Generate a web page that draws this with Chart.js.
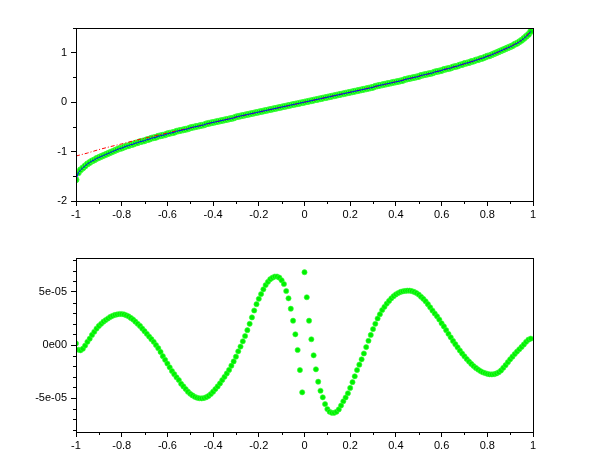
<!DOCTYPE html>
<html>
<head>
<meta charset="utf-8">
<script src="https://cdn.jsdelivr.net/npm/chart.js@4/dist/chart.umd.min.js"></script>
<style>
  body { margin: 0; background: #fff; }
  canvas { position: absolute; left: 0; }
</style>
</head>
<body>
<canvas id="topChart" width="610" height="230" style="top:0"></canvas>
<canvas id="bottomChart" width="610" height="230" style="top:230px"></canvas>
<script>
// x samples: -1.00 .. 0.99, step 0.01 (200 points)
const sampleCount = 200;

// top panel: sampled curve (green points) and the fitted curve (blue line)
const curveValues = [
  -1.57, -1.43, -1.37, -1.33, -1.29, -1.25, -1.22, -1.19, -1.17, -1.14,
  -1.12, -1.10, -1.08, -1.06, -1.04, -1.02, -1.00, -0.98, -0.96, -0.94,
  -0.93, -0.91, -0.89, -0.88, -0.86, -0.85, -0.83, -0.82, -0.80, -0.79,
  -0.78, -0.76, -0.75, -0.73, -0.72, -0.71, -0.69, -0.68, -0.67, -0.66,
  -0.64, -0.63, -0.62, -0.61, -0.59, -0.58, -0.57, -0.56, -0.55, -0.54,
  -0.52, -0.51, -0.50, -0.49, -0.48, -0.47, -0.46, -0.44, -0.43, -0.42,
  -0.41, -0.40, -0.39, -0.38, -0.37, -0.36, -0.35, -0.34, -0.33, -0.32,
  -0.30, -0.29, -0.28, -0.27, -0.26, -0.25, -0.24, -0.23, -0.22, -0.21,
  -0.20, -0.19, -0.18, -0.17, -0.16, -0.15, -0.14, -0.13, -0.12, -0.11,
  -0.10, -0.09, -0.08, -0.07, -0.06, -0.05, -0.04, -0.03, -0.02, -0.01,
  0.00, 0.01, 0.02, 0.03, 0.04, 0.05, 0.06, 0.07, 0.08, 0.09,
  0.10, 0.11, 0.12, 0.13, 0.14, 0.15, 0.16, 0.17, 0.18, 0.19,
  0.20, 0.21, 0.22, 0.23, 0.24, 0.25, 0.26, 0.27, 0.28, 0.29,
  0.30, 0.32, 0.33, 0.34, 0.35, 0.36, 0.37, 0.38, 0.39, 0.40,
  0.41, 0.42, 0.43, 0.44, 0.46, 0.47, 0.48, 0.49, 0.50, 0.51,
  0.52, 0.54, 0.55, 0.56, 0.57, 0.58, 0.59, 0.61, 0.62, 0.63,
  0.64, 0.66, 0.67, 0.68, 0.69, 0.71, 0.72, 0.73, 0.75, 0.76,
  0.78, 0.79, 0.80, 0.82, 0.83, 0.85, 0.86, 0.88, 0.89, 0.91,
  0.93, 0.94, 0.96, 0.98, 1.00, 1.02, 1.04, 1.06, 1.08, 1.10,
  1.12, 1.14, 1.17, 1.19, 1.22, 1.25, 1.29, 1.33, 1.37, 1.43
];

// top panel: red dash-dot approximation, coarser grid
const approxX = [
  -1, -0.95, -0.9, -0.85, -0.8, -0.75, -0.7, -0.65, -0.6, -0.55,
  -0.5, -0.45, -0.4, -0.35, -0.3, -0.25, -0.2, -0.15, -0.1, -0.05,
  0, 0.05, 0.1, 0.15, 0.2, 0.25, 0.3, 0.35, 0.4, 0.45,
  0.5, 0.55, 0.6, 0.65, 0.7, 0.75, 0.8, 0.85, 0.9, 0.95, 0.99
];
const approxValues = [
  -1.09, -1.03, -0.96, -0.90, -0.845, -0.785, -0.73, -0.675, -0.625, -0.57,
  -0.522, -0.467, -0.412, -0.358, -0.305, -0.253, -0.201, -0.151, -0.100, -0.050,
  0, 0.050, 0.100, 0.151, 0.201, 0.253, 0.305, 0.358, 0.412, 0.467,
  0.524, 0.582, 0.644, 0.708, 0.775, 0.848, 0.927, 1.016, 1.12, 1.25, 1.43
];

// bottom panel: error, in units of 1e-5
const errorValues = [
  0.15, -0.45, -0.5, -0.35, -0.05, 0.3, 0.6, 0.95, 1.25, 1.55,
  1.8, 2.0, 2.2, 2.35, 2.5, 2.65, 2.75, 2.83, 2.88, 2.92,
  2.92, 2.88, 2.8, 2.7, 2.55, 2.4, 2.2, 2.0, 1.8, 1.55,
  1.3, 1.05, 0.8, 0.55, 0.3, 0.0, -0.3, -0.65, -1.05, -1.4,
  -1.75, -2.1, -2.45, -2.75, -3.05, -3.3, -3.65, -3.9, -4.15, -4.4,
  -4.6, -4.75, -4.88, -4.97, -5.02, -5.03, -5.0, -4.92, -4.8, -4.62,
  -4.4, -4.15, -3.9, -3.62, -3.3, -3.0, -2.68, -2.35, -1.95, -1.55,
  -1.1, -0.6, -0.15, 0.35, 0.85, 1.4, 2.0, 2.6, 3.25, 3.85,
  4.35, 4.8, 5.25, 5.65, 5.95, 6.2, 6.35, 6.45, 6.45, 6.35,
  6.1, 5.75, 5.09, 4.4, 3.42, 2.29, 1.01, -0.47, -2.36, -4.46,
  6.86, 4.5, 2.29, 0.54, -0.97, -2.29, -3.46, -4.31, -4.93, -5.57,
  -6.04, -6.29, -6.39, -6.39, -6.29, -6.07, -5.7, -5.3, -4.95, -4.55,
  -4.05, -3.5, -2.95, -2.36, -1.85, -1.35, -0.8, -0.2, 0.4, 0.95,
  1.5, 2.0, 2.5, 2.9, 3.3, 3.6, 3.9, 4.15, 4.4, 4.6,
  4.77, 4.9, 5.0, 5.06, 5.1, 5.12, 5.12, 5.08, 5.0, 4.9,
  4.75, 4.55, 4.35, 4.12, 3.85, 3.55, 3.25, 2.97, 2.7, 2.4,
  2.05, 1.75, 1.4, 1.05, 0.72, 0.38, 0.08, -0.22, -0.52, -0.8,
  -1.07, -1.32, -1.56, -1.78, -1.98, -2.16, -2.32, -2.46, -2.57, -2.65,
  -2.72, -2.76, -2.77, -2.75, -2.68, -2.57, -2.4, -2.15, -1.9, -1.62,
  -1.35, -1.1, -0.85, -0.62, -0.4, -0.18, 0.05, 0.3, 0.5, 0.6
];

// ticks
const xTicks = [-1, -0.8, -0.6, -0.4, -0.2, 0, 0.2, 0.4, 0.6, 0.8, 1];
const xMinor = [-0.9, -0.7, -0.5, -0.3, -0.1, 0.1, 0.3, 0.5, 0.7, 0.9];
const topYTicks = [-2, -1, 0, 1];
const topYMinor = [-1.5, -0.5, 0.5, 1.5];
const bottomYTicks = [-5e-5, 0, 5e-5];
const bottomYLabels = ['-5e-05', '0e00', '5e-05'];
const bottomYMinor = [-8e-5, -7e-5, -6e-5, -4e-5, -3e-5, -2e-5, -1e-5, 1e-5, 2e-5, 3e-5, 4e-5, 6e-5, 7e-5, 8e-5];

const xs = Array.from({ length: sampleCount }, (_, i) => Math.round((-1 + i / 100) * 100) / 100);
const pts = (xv, yv, k) => xv.map((x, i) => ({ x: x, y: yv[i] * (k || 1) }));

const green = 'rgb(0,240,0)';
const font = { family: 'Liberation Sans, Arial, sans-serif', size: 11 };

// box around the plot + short minor ticks
const boxTicks = {
  id: 'boxTicks',
  afterDraw(chart, args, opts) {
    const { ctx, chartArea: a, scales } = chart;
    ctx.save();
    ctx.strokeStyle = '#000';
    ctx.lineWidth = 1;
    ctx.strokeRect(Math.round(a.left) + 0.5, Math.round(a.top) + 0.5,
      Math.round(a.right - a.left), Math.round(a.bottom - a.top));
    ctx.beginPath();
    opts.xMinor.forEach(v => {
      const px = Math.round(scales.x.getPixelForValue(v)) + 0.5;
      ctx.moveTo(px, a.bottom);
      ctx.lineTo(px, a.bottom + 3);
    });
    opts.yMinor.forEach(v => {
      const py = Math.round(scales.y.getPixelForValue(v)) + 0.5;
      ctx.moveTo(a.left, py);
      ctx.lineTo(a.left - 3, py);
    });
    ctx.stroke();
    ctx.restore();
  }
};

function axes(yMin, yMax, yTicks, yLabel, xHeight) {
  return {
    x: {
      type: 'linear', min: -1, max: 1,
      afterBuildTicks: s => { s.ticks = xTicks.map(v => ({ value: v })); },
      afterFit: s => { s.height = xHeight; },
      grid: { drawOnChartArea: false, tickLength: 5, color: '#000' },
      border: { display: true, color: '#000' },
      ticks: { color: '#000', font: font, padding: 2, maxRotation: 0, autoSkip: false,
        callback: v => String(Math.round(v * 10) / 10) }
    },
    y: {
      type: 'linear', min: yMin, max: yMax,
      afterBuildTicks: s => { s.ticks = yTicks.map(v => ({ value: v })); },
      afterFit: s => { s.width = 76; },
      grid: { drawOnChartArea: false, tickLength: 5, color: '#000' },
      border: { display: true, color: '#000' },
      ticks: { color: '#000', font: font, padding: 4, autoSkip: false, callback: yLabel }
    }
  };
}

new Chart(document.getElementById('topChart'), {
  type: 'scatter',
  data: {
    datasets: [
      {
        data: pts(xs, curveValues), showLine: false,
        pointRadius: 3, pointBorderWidth: 1,
        pointBackgroundColor: green, pointBorderColor: 'rgb(60,255,60)', order: 3
      },
      {
        data: pts(approxX, approxValues), showLine: true, pointRadius: 0,
        borderColor: 'rgb(255,0,0)', borderWidth: 1, borderDash: [4, 2, 1, 2], order: 2
      },
      {
        data: pts(xs, curveValues), showLine: true, pointRadius: 0,
        borderColor: 'rgb(0,0,255)', borderWidth: 1, order: 1
      }
    ]
  },
  options: {
    responsive: false, animation: false,
    layout: { padding: { top: 28, right: 77, left: 0, bottom: 0 } },
    scales: axes(-2, 1.5, topYTicks, v => String(v), 29),
    plugins: {
      legend: { display: false }, tooltip: { enabled: false },
      boxTicks: { xMinor: xMinor, yMinor: topYMinor }
    }
  },
  plugins: [boxTicks]
});

new Chart(document.getElementById('bottomChart'), {
  type: 'scatter',
  data: {
    datasets: [{
      data: pts(xs, errorValues, 1e-5), showLine: false,
      pointRadius: 2.6, pointBorderWidth: 0.6,
      pointBackgroundColor: green, pointBorderColor: 'rgb(60,255,60)'
    }]
  },
  options: {
    responsive: false, animation: false,
    layout: { padding: { top: 28, right: 77, left: 0, bottom: 0 } },
    scales: axes(-8.2e-5, 8.2e-5, bottomYTicks,
      v => bottomYLabels[bottomYTicks.findIndex(t => Math.abs(t - v) < 1e-9)], 28),
    plugins: {
      legend: { display: false }, tooltip: { enabled: false },
      boxTicks: { xMinor: xMinor, yMinor: bottomYMinor }
    }
  },
  plugins: [boxTicks]
});
</script>
</body>
</html>
